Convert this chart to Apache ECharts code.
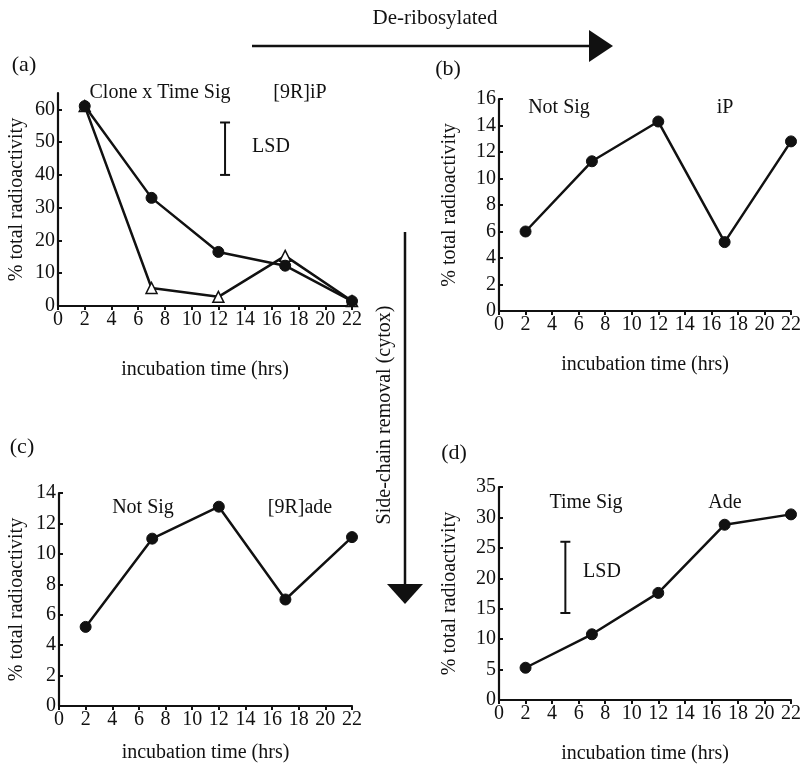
<!DOCTYPE html>
<html>
<head>
<meta charset="utf-8">
<script src="https://cdn.jsdelivr.net/npm/echarts@6/dist/echarts.min.js"></script>
<style>
html,body{margin:0;padding:0;background:#fff;}
#chart{width:806px;height:768px;}
</style>
</head>
<body>
<div id="chart"></div>
<script>
// ---- data ----
const xHours = [2, 7, 12, 17, 22];
const xTicks = [0, 2, 4, 6, 8, 10, 12, 14, 16, 18, 20, 22];
const aCircle = [61, 33, 16.5, 12.3, 1.5];
const aTriangle = [61, 5.5, 2.8, 15.3, 1.5];
const aLSDx = 12.5;
const aLSD = [40, 56];
const bIP = [6, 11.3, 14.3, 5.2, 12.8];
const c9Rade = [5.2, 11, 13.1, 7, 11.1];
const dAde = [5.3, 10.8, 17.6, 28.8, 30.5];
const dLSDx = 5;
const dLSD = [14.3, 26];
const yMax = [65, 16, 14, 35];
const yStep = [10, 2, 2, 5];

const FONT = "'Liberation Serif', 'Times New Roman', Times, serif";
const INK = '#111';

function pairs(ys) { return xHours.map((x, i) => [x, ys[i]]); }

const grids = [
  {left: 58, top: 93, width: 294, height: 213},
  {left: 499, top: 99, width: 292, height: 212},
  {left: 59, top: 493, width: 293, height: 213},
  {left: 499, top: 487, width: 292, height: 213}
];
const xGap = [54, 44, 37, 44];
const yGap = [31, 39, 32, 39];

const xAxes = grids.map((g, i) => ({
  type: 'value', gridIndex: i, min: xTicks[0], max: xTicks[xTicks.length - 1], interval: 2,
  name: 'incubation time (hrs)', nameLocation: 'middle', nameGap: xGap[i],
  nameTextStyle: {fontFamily: FONT, fontSize: 20, color: INK},
  axisLine: {show: true, lineStyle: {color: INK, width: 2.2}},
  axisTick: {show: true, inside: false, length: 4, lineStyle: {color: INK, width: 2}},
  axisLabel: {fontFamily: FONT, fontSize: 20, color: INK, margin: 4},
  splitLine: {show: false}
}));
const yAxes = grids.map((g, i) => ({
  type: 'value', gridIndex: i, min: 0, max: yMax[i], interval: yStep[i],
  name: '% total radioactivity', nameLocation: 'middle', nameGap: yGap[i],
  nameTextStyle: {fontFamily: FONT, fontSize: 20, color: INK},
  axisLine: {show: true, lineStyle: {color: INK, width: 2.2}},
  axisTick: {show: true, inside: true, length: 4, lineStyle: {color: INK, width: 2}},
  axisLabel: {fontFamily: FONT, fontSize: 20, color: INK, margin: 3, showMaxLabel: i !== 0},
  splitLine: {show: false}
}));

function lineSeries(idx, ys, symbol, hollow) {
  return {
    type: 'line', xAxisIndex: idx, yAxisIndex: idx, data: pairs(ys),
    symbol: symbol, symbolSize: 11,
    showAllSymbol: true,
    lineStyle: {color: INK, width: 2.5},
    itemStyle: hollow ? {color: '#fff', borderColor: INK, borderWidth: 1.5} : {color: INK, borderColor: INK, borderWidth: 1},
    z: hollow ? 2 : 3
  };
}
function lsdSeries(idx, x, range) {
  return {
    type: 'line', xAxisIndex: idx, yAxisIndex: idx,
    data: [[x, range[0]], [x, range[1]]],
    symbol: 'rect', symbolSize: [10, 2],
    lineStyle: {color: INK, width: 2},
    itemStyle: {color: INK}
  };
}

function txt(x, y, s, size, extra) {
  return Object.assign({
    type: 'text', x: x, y: y,
    style: {text: s, fontFamily: FONT, fontSize: size || 20, fill: INK, align: 'center', verticalAlign: 'middle'}
  }, extra || {});
}

const graphics = [
  txt(435, 18, 'De-ribosylated', 21),
  {type: 'line', shape: {x1: 252, y1: 46, x2: 592, y2: 46}, style: {stroke: INK, lineWidth: 2.5}},
  {type: 'polygon', shape: {points: [[589, 30], [613, 46], [589, 62]]}, style: {fill: INK}},
  {type: 'line', shape: {x1: 405, y1: 232, x2: 405, y2: 586}, style: {stroke: INK, lineWidth: 2.5}},
  {type: 'polygon', shape: {points: [[387, 584], [423, 584], [405, 604]]}, style: {fill: INK}},
  txt(385, 415, 'Side-chain removal (cytox)', 20, {rotation: Math.PI / 2}),
  txt(24, 65, '(a)', 22),
  txt(448, 69, '(b)', 22),
  txt(22, 447, '(c)', 22),
  txt(454, 453, '(d)', 22),
  txt(160, 93, 'Clone x Time Sig'),
  txt(300, 93, '[9R]iP'),
  txt(271, 147, 'LSD'),
  txt(559, 108, 'Not Sig'),
  txt(725, 108, 'iP'),
  txt(143, 508, 'Not Sig'),
  txt(300, 508, '[9R]ade'),
  txt(586, 503, 'Time Sig'),
  txt(725, 503, 'Ade'),
  txt(602, 572, 'LSD')
];

const chart = echarts.init(document.getElementById('chart'), null, {renderer: 'canvas'});
chart.setOption({
  animation: false,
  backgroundColor: '#fff',
  grid: grids,
  xAxis: xAxes,
  yAxis: yAxes,
  series: [
    lineSeries(0, aTriangle, 'triangle', true),
    lineSeries(0, aCircle, 'circle', false),
    lsdSeries(0, aLSDx, aLSD),
    lineSeries(1, bIP, 'circle', false),
    lineSeries(2, c9Rade, 'circle', false),
    lineSeries(3, dAde, 'circle', false),
    lsdSeries(3, dLSDx, dLSD)
  ],
  graphic: graphics
});
</script>
</body>
</html>
